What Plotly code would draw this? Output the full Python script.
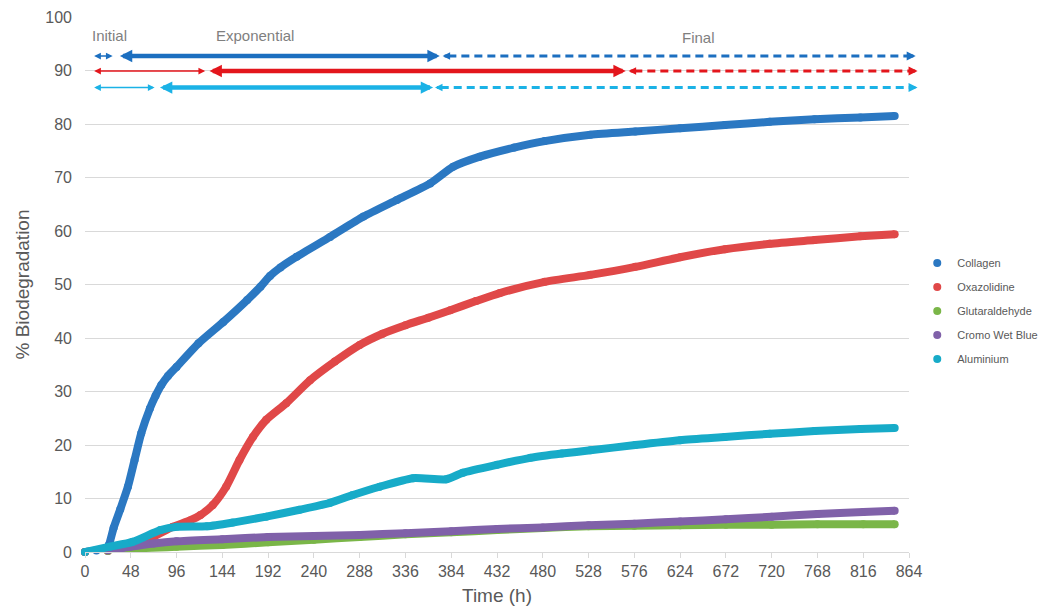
import plotly.graph_objects as go

# Biodegradation curves (% vs. hours)
collagen_t = [0, 12, 22, 25, 30, 37, 45, 52, 59, 68, 74, 80, 87, 96, 119, 145, 170, 184, 194, 205, 222, 257,
              292, 327, 362, 386, 414, 450, 482, 530, 577, 624, 671, 718, 765, 813, 849]
collagen_v = [0, 0.3, 0.6, 1.3, 4.5, 8, 12.2, 17.2, 22.2, 26.8, 29.2, 31.2, 32.9, 34.6, 39, 43, 47.1, 49.6, 51.6,
              53.2, 55.2, 58.9, 62.7, 65.8, 68.9, 72, 73.9, 75.6, 76.8, 78, 78.6, 79.2, 79.8, 80.4, 80.9, 81.2, 81.5]

oxazolidine_t = [0, 24, 48, 72, 92, 110, 121, 134, 148, 162, 176, 190, 211, 236, 262, 288, 312, 336,
                 360, 383, 410, 435, 482, 530, 577, 624, 671, 718, 765, 813, 849]
oxazolidine_v = [0, 0.2, 1.2, 2.9, 4.7, 5.9, 6.9, 8.8, 12.2, 17.2, 21.5, 24.7, 27.8, 32.1, 35.6, 38.7, 40.8, 42.4,
                 43.8, 45.2, 46.9, 48.4, 50.5, 51.8, 53.3, 55.1, 56.6, 57.6, 58.3, 59, 59.4]

glutaraldehyde_t = [0, 24, 48, 96, 144, 192, 240, 288, 336, 384, 432, 480, 528, 576, 624, 672, 720, 768, 816, 849]
glutaraldehyde_v = [0, 0.2, 0.6, 1.0, 1.3, 1.8, 2.3, 2.8, 3.3, 3.7, 4.1, 4.5, 4.8, 4.9, 5.0, 5.1, 5.1, 5.2, 5.2, 5.2]

cromo_t = [0, 24, 48, 72, 96, 144, 192, 240, 288, 336, 384, 432, 480, 528, 576, 624, 672, 720, 768, 816, 849]
cromo_v = [0, 0.3, 1.0, 1.6, 2.0, 2.4, 2.8, 3.0, 3.2, 3.5, 3.9, 4.3, 4.6, 5.0, 5.3, 5.7, 6.1, 6.6, 7.1, 7.5, 7.7]

aluminium_t = [0, 26, 50, 79, 96, 128, 155, 190, 225, 257, 280, 309, 344, 379, 396, 432, 467, 500, 530, 577,
               624, 671, 718, 765, 813, 849]
aluminium_v = [0, 1, 1.9, 4.1, 4.7, 4.8, 5.5, 6.6, 7.9, 9.2, 10.6, 12.2, 13.8, 13.6, 14.8, 16.3, 17.6, 18.4, 19.0, 20,
               20.9, 21.5, 22.1, 22.6, 23, 23.2]

series_names = ["Collagen", "Oxazolidine", "Glutaraldehyde", "Cromo Wet Blue", "Aluminium"]
series_colors = ["#2b78c2", "#e04848", "#7ab648", "#8061a9", "#17abc8"]
series_t = [collagen_t, oxazolidine_t, glutaraldehyde_t, cromo_t, aluminium_t]
series_v = [collagen_v, oxazolidine_v, glutaraldehyde_v, cromo_v, aluminium_v]

X_MAX = 864
x_ticks = list(range(0, X_MAX + 1, 48))
y_ticks = list(range(0, 101, 10))

# Phase bands (hours) per series row: initial, exponential, final
phase_rows_y = [92.7, 89.9, 86.8]
phase_colors = ["#1c6fc0", "#e3161c", "#1bb2e6"]
initial_spans = [(8, 29), (8, 126), (8, 73)]
exponential_spans = [(35, 372), (129, 567), (77, 365)]
final_spans = [(375, 871), (570, 873), (367, 873)]
phase_labels = [("Initial", 26, 96.6), ("Exponential", 178, 96.6), ("Final", 643, 96.1)]

GRAY = "#595959"
FONT = "Liberation Sans, Arial, sans-serif"

fig = go.Figure()

for name, col, t, v in zip(series_names, series_colors, series_t, series_v):
    fig.add_trace(go.Scatter(
        x=t, y=v, mode="lines+markers", name=name, showlegend=False,
        line=dict(color=col, width=8, shape="spline", smoothing=0.6),
        marker=dict(color=col, size=8), cliponaxis=False, hoverinfo="skip"))

# marker-only legend entries
for i, (name, col) in enumerate(zip(series_names, series_colors)):
    fig.add_trace(go.Scatter(
        x=[None], y=[None], mode="markers", name=name, legendgroup=f"g{i}",
        marker=dict(color=col, size=8)))

annotations = []
shapes = []
for y, col, ini, exp_, fin in zip(phase_rows_y, phase_colors, initial_spans, exponential_spans, final_spans):
    # thin initial-phase arrow
    annotations.append(dict(x=ini[1], y=y, ax=ini[0], ay=y, xref="x", yref="y", axref="x", ayref="y",
                            text="", showarrow=True, arrowside="end+start", arrowhead=2,
                            arrowwidth=1.5, arrowsize=0.9, arrowcolor=col, standoff=0, startstandoff=0))
    # thick exponential-phase arrow
    annotations.append(dict(x=exp_[1], y=y, ax=exp_[0], ay=y, xref="x", yref="y", axref="x", ayref="y",
                            text="", showarrow=True, arrowside="end+start", arrowhead=2,
                            arrowwidth=4.5, arrowsize=0.55, arrowcolor=col, standoff=0, startstandoff=0))
    # dashed final-phase line with heads at both ends
    shapes.append(dict(type="line", xref="x", yref="y", x0=fin[0] + 6, x1=fin[1] - 6, y0=y, y1=y,
                       line=dict(color=col, width=3, dash="8px,5px")))
    # right head sits past the axis end, so place it in paper space
    annotations.append(dict(x=fin[1] / X_MAX, y=y, ax=-8, ay=0, xref="paper", yref="y",
                            axref="pixel", ayref="pixel",
                            text="", showarrow=True, arrowhead=2, arrowwidth=3, arrowsize=0.6,
                            arrowcolor=col, standoff=0))
    annotations.append(dict(x=fin[0], y=y, ax=fin[0] + 8, ay=y, xref="x", yref="y", axref="x", ayref="y",
                            text="", showarrow=True, arrowhead=2, arrowwidth=3, arrowsize=0.5,
                            arrowcolor=col, standoff=0))

for label, lx, ly in phase_labels:
    annotations.append(dict(x=lx, y=ly, xref="x", yref="y", text=label, showarrow=False,
                            font=dict(family=FONT, size=15, color="#7f7f7f")))

fig.update_layout(
    width=1059, height=609,
    margin=dict(l=85, r=150, t=17, b=57),
    paper_bgcolor="white", plot_bgcolor="white",
    font=dict(family=FONT, color=GRAY),
    showlegend=True,
    legend=dict(x=1.01, xanchor="left", y=0.5675, yanchor="top",
                font=dict(family=FONT, size=11, color=GRAY),
                tracegroupgap=5, bgcolor="rgba(0,0,0,0)"),
    annotations=annotations,
    shapes=shapes,
)

fig.update_xaxes(
    range=[0, X_MAX], tickvals=x_ticks, ticktext=[str(v) for v in x_ticks],
    showgrid=False, showline=True, linecolor="#d9d9d9", linewidth=1,
    ticks="outside", ticklen=5, tickcolor="#d9d9d9",
    tickfont=dict(family=FONT, size=16, color=GRAY),
    title=dict(text="Time (h)", font=dict(family=FONT, size=19, color=GRAY), standoff=9),
    zeroline=False, automargin=False,
)
fig.update_yaxes(
    range=[0, 100], tickvals=y_ticks,
    showgrid=True, gridcolor="#d9d9d9", gridwidth=1,
    showline=False, zeroline=False, ticks="", ticklabelstandoff=12,
    tickfont=dict(family=FONT, size=16, color=GRAY),
    title=dict(text="% Biodegradation", font=dict(family=FONT, size=19, color=GRAY), standoff=10),
    automargin=False,
)

fig.write_html("out.html")
